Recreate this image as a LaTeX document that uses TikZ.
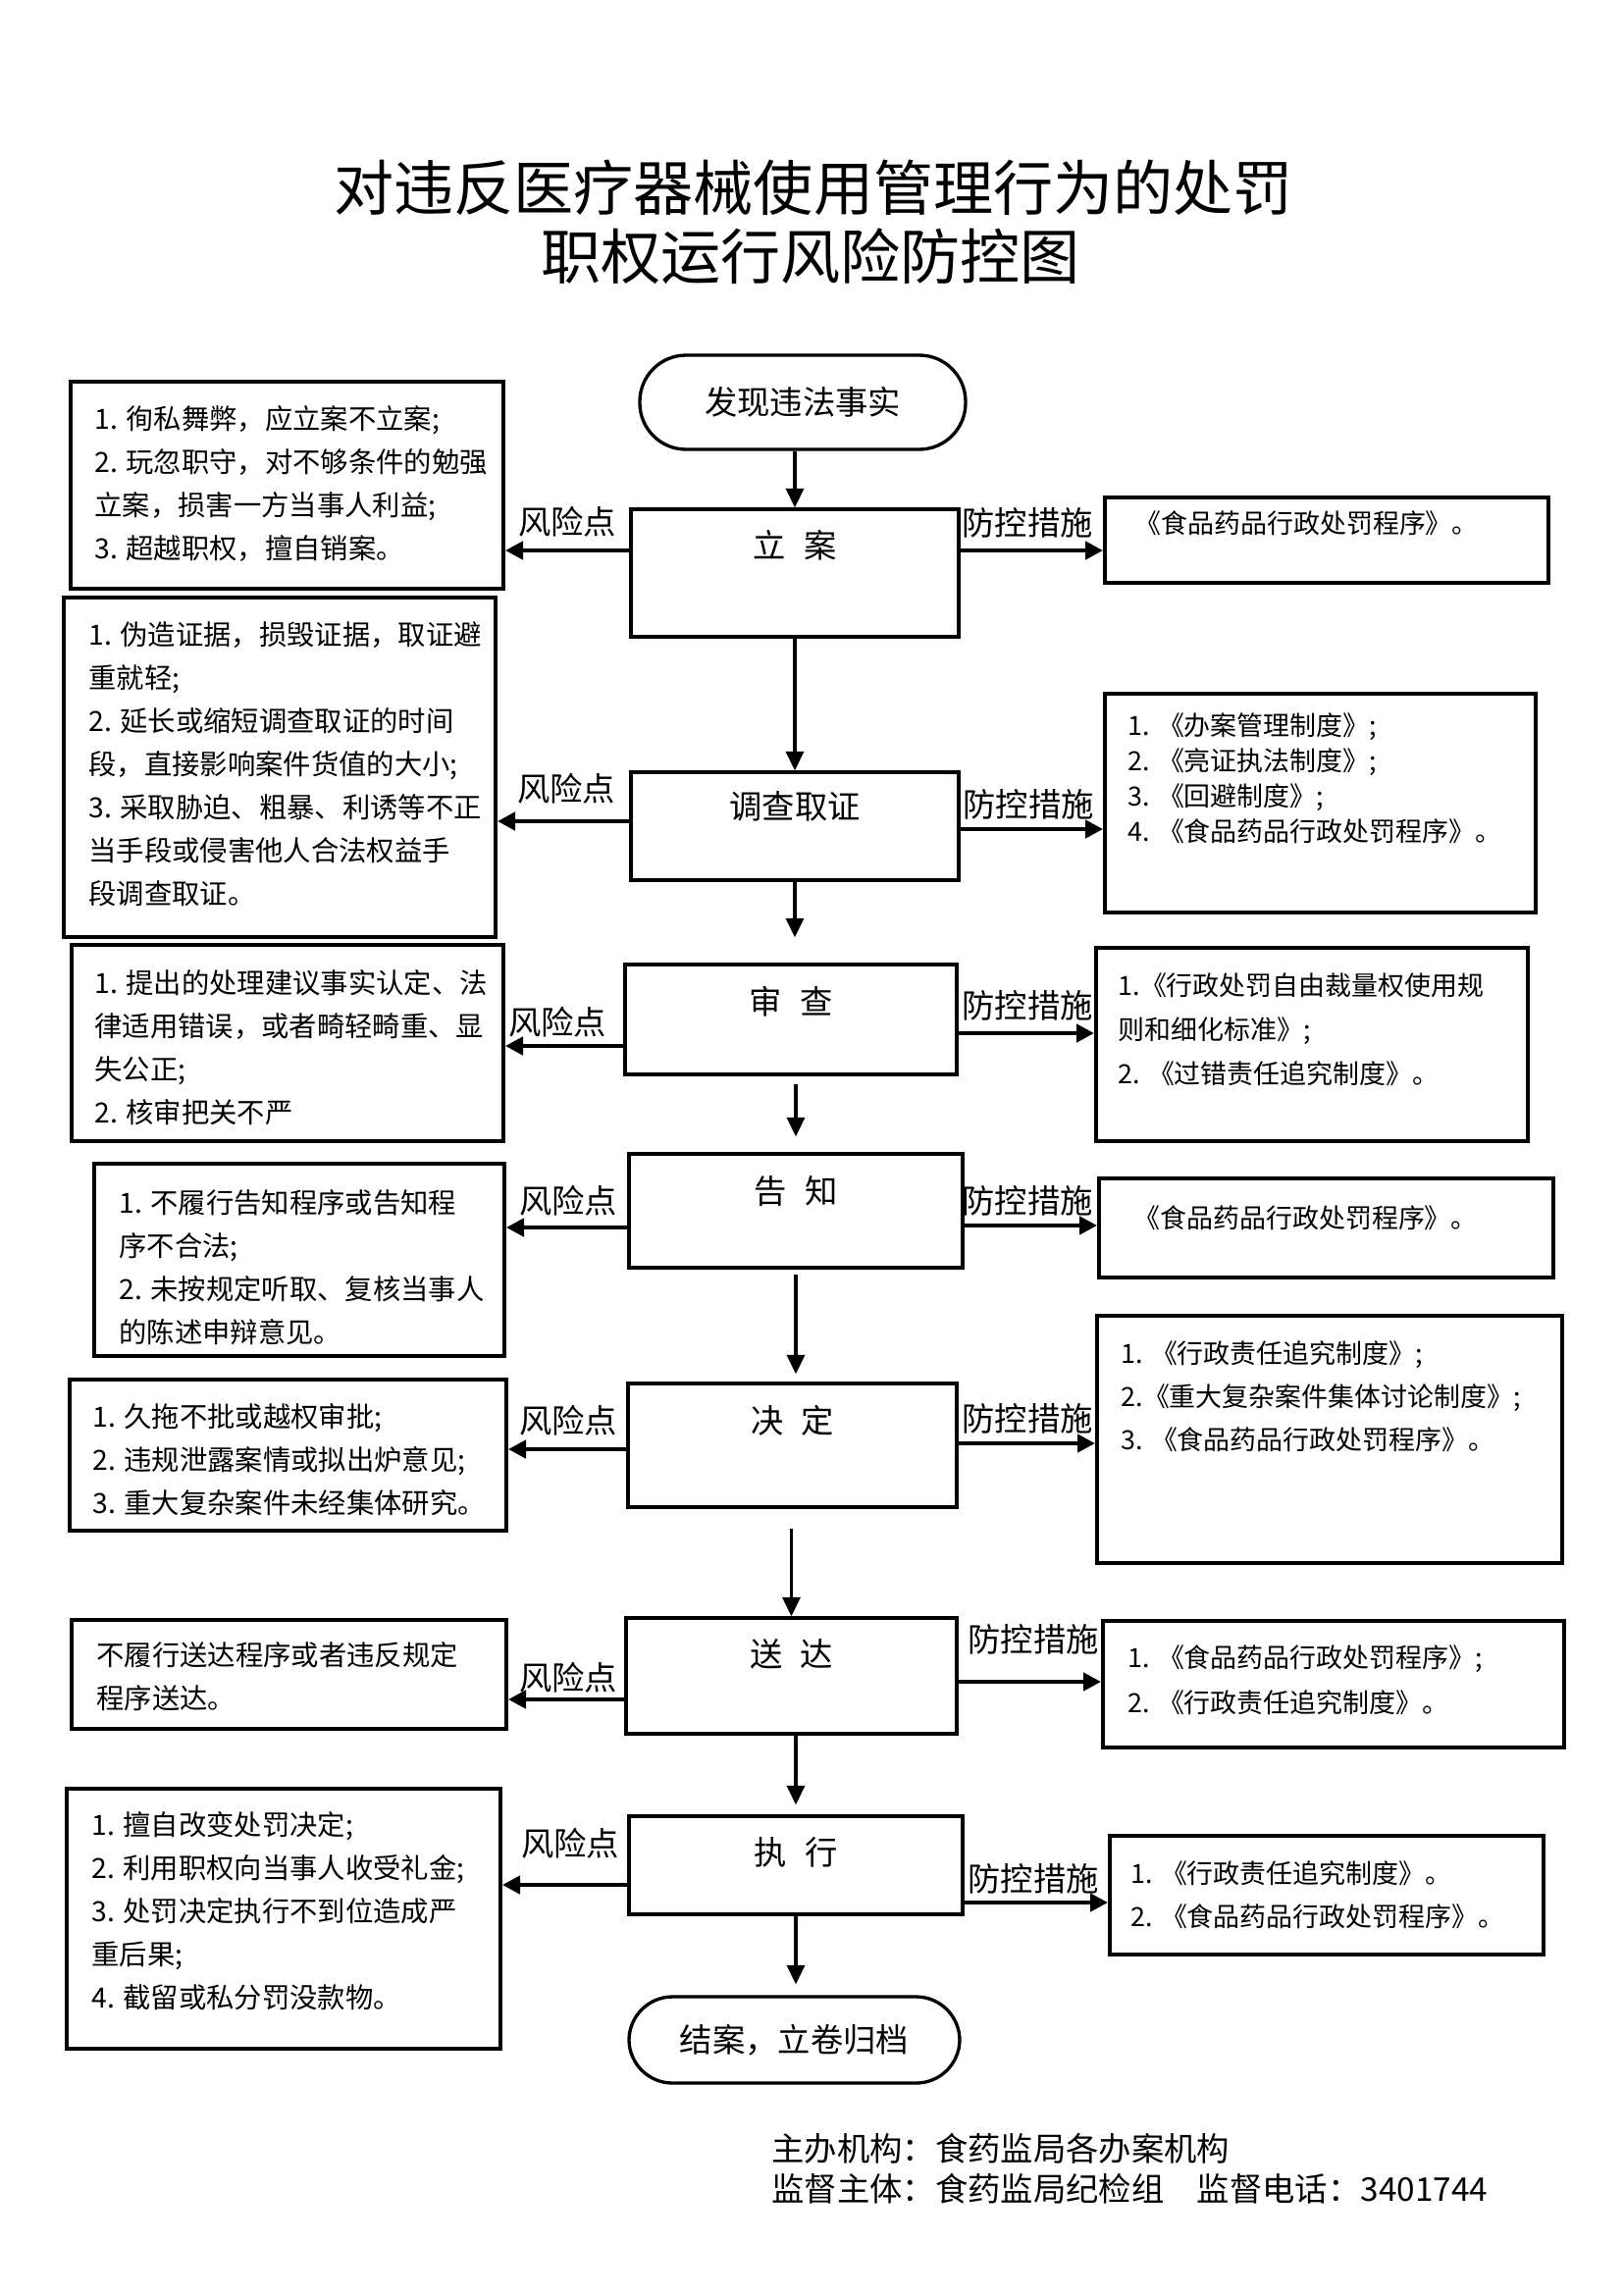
\documentclass[tikz,border=0pt]{standalone}
\usepackage{fontspec}
\setmainfont{Noto Sans CJK SC}
\usetikzlibrary{arrows.meta}
\begin{document}
\begin{tikzpicture}[x=0.36pt,y=-0.36pt,
  sz/.style 2 args={minimum width={#1*0.36pt}, minimum height={#2*0.36pt}},
  mainbox/.style={draw, line width=1.2pt, inner sep=0pt},
  riskbox/.style={draw, line width=1.4pt, inner sep=0pt},
  measbox/.style={draw, line width=1.4pt, inner sep=0pt},
  stadium/.style={draw, line width=1.2pt, inner sep=0pt, rounded corners=#1},
  risktext/.style={anchor=north west, inner sep=0pt, align=left, font=\fontsize{10.2pt}{15.84pt}\selectfont},
  meastext/.style={anchor=north west, inner sep=0pt, align=left, font=\fontsize{9.7pt}{#1}\selectfont},
  lbl/.style={inner sep=0pt, font=\fontsize{12pt}{14pt}\selectfont},
  ttl/.style={inner sep=0pt, font=\fontsize{22pt}{26pt}\selectfont},
  varrow/.style={line width=1.1pt, -{Triangle[length=7pt,width=6.5pt]}},
  harrow/.style={line width=1.6pt, -{Triangle[length=6.5pt,width=6.5pt]}}
]
\useasboundingbox (0,0) rectangle (1654,2339);
\fill[white] (0,0) rectangle (1654,2339);

% title
\node[ttl] (t1) at (829,191) {对违反医疗器械使用管理行为的处罚};
\node[ttl] (t2) at (826,261) {职权运行风险防控图};

% main flow
\node[stadium=17pt, sz={332}{96}] (start) at (818,410) {};
\node[lbl] (starttxt) at (start.center) {发现违法事实};
\node[mainbox, sz={334}{130}] (m1) at (810,584) {};
\node[mainbox, sz={334}{110}] (m2) at (810,842) {};
\node[mainbox, sz={338}{112}] (m3) at (806,1039) {};
\node[mainbox, sz={340}{116}] (m4) at (811,1234) {};
\node[mainbox, sz={335}{126}] (m5) at (807.5,1473) {};
\node[mainbox, sz={337}{118}] (m6) at (806.5,1708) {};
\node[mainbox, sz={340}{100}] (m7) at (811,1901) {};
\node[stadium=16pt, sz={337}{88}] (end) at (809.5,2079) {};
\node[lbl] (endtxt) at (end.center) {结案，立卷归档};

\node[lbl] (m1t) at (m1.north |- 0,556) {立\hspace{0.55em}案};
\node[lbl] (m2t) at (m2.north |- 0,822) {调查取证};
\node[lbl] (m3t) at (m3.north |- 0,1021) {审\hspace{0.55em}查};
\node[lbl] (m4t) at (m4.north |- 0,1214) {告\hspace{0.55em}知};
\node[lbl] (m5t) at (m5.north |- 0,1448) {决\hspace{0.55em}定};
\node[lbl] (m6t) at (m6.north |- 0,1686) {送\hspace{0.55em}达};
\node[lbl] (m7t) at (m7.north |- 0,1888) {执\hspace{0.55em}行};

% vertical arrows
\draw[varrow] (start.south -| m1.north) -- (m1.north);
\draw[varrow] (m1.south) -- (m1.south |- m2.north);
\draw[varrow, shorten >=26*0.36pt] (m2.south) -- (m2.south |- m3.north);
\draw[varrow, shorten <=8*0.36pt, shorten >=16*0.36pt] (m3.south -| m4.north) -- (m4.north);
\draw[varrow, shorten <=5*0.36pt, shorten >=8*0.36pt] (m4.south) -- (m4.south |- m5.north);
\draw[varrow, shorten <=20*0.36pt] (m5.south -| m6.north) -- (m6.north);
\draw[varrow, shorten >=10*0.36pt] (m6.south -| m7.north) -- (m7.north);
\draw[varrow, shorten >=11*0.36pt] (m7.south) -- (m7.south |- end.north);

% risk boxes
\node[riskbox, sz={441}{211}] (r1) at (292.5,494.5) {};
\node[riskbox, sz={440}{346}] (r2) at (285,782) {};
\node[riskbox, sz={440}{200}] (r3) at (293,1063) {};
\node[riskbox, sz={418}{196}] (r4) at (305,1284) {};
\node[riskbox, sz={445}{154}] (r5) at (293.5,1483) {};
\node[riskbox, sz={443}{111}] (r6) at (294.5,1706.5) {};
\node[riskbox, sz={442}{265}] (r7) at (289,1955.5) {};

\node[risktext] (r1t) at (96,413) {1. 徇私舞弊，应立案不立案;\\2. 玩忽职守，对不够条件的勉强\\立案，损害一方当事人利益;\\3. 超越职权，擅自销案。};
\node[risktext] (r2t) at (90,633) {1. 伪造证据，损毁证据，取证避\\重就轻;\\2. 延长或缩短调查取证的时间\\段，直接影响案件货值的大小;\\3. 采取胁迫、粗暴、利诱等不正\\当手段或侵害他人合法权益手\\段调查取证。};
\node[risktext] (r3t) at (96,988) {1. 提出的处理建议事实认定、法\\律适用错误，或者畸轻畸重、显\\失公正;\\2. 核审把关不严};
\node[risktext] (r4t) at (121,1212) {1. 不履行告知程序或告知程\\序不合法;\\2. 未按规定听取、复核当事人\\的陈述申辩意见。};
\node[risktext] (r5t) at (94,1430) {1. 久拖不批或越权审批;\\2. 违规泄露案情或拟出炉意见;\\3. 重大复杂案件未经集体研究。};
\node[risktext] (r6t) at (98,1673) {不履行送达程序或者违反规定\\程序送达。};
\node[risktext] (r7t) at (93,1846) {1. 擅自改变处罚决定;\\2. 利用职权向当事人收受礼金;\\3. 处罚决定执行不到位造成严\\重后果;\\4. 截留或私分罚没款物。};

% measure boxes
\node[measbox, sz={452}{87}] (p1) at (1352,550.5) {};
\node[measbox, sz={439}{223}] (p2) at (1345.5,818.5) {};
\node[measbox, sz={440}{197}] (p3) at (1337,1064.5) {};
\node[measbox, sz={463}{101}] (p4) at (1351.5,1251.5) {};
\node[measbox, sz={474}{252}] (p5) at (1355,1467) {};
\node[measbox, sz={470}{129}] (p6) at (1359,1716.5) {};
\node[measbox, sz={442}{121}] (p7) at (1352,1931.5) {};

\node[meastext=15.84pt] (p1t) at (1156,520) {《食品药品行政处罚程序》。};
\node[meastext=12.96pt] (p2t) at (1149,726) {1. 《办案管理制度》;\\2. 《亮证执法制度》;\\3. 《回避制度》;\\4. 《食品药品行政处罚程序》。};
\node[meastext=16.2pt] (p3t) at (1139,991) {1.《行政处罚自由裁量权使用规\\则和细化标准》;\\2. 《过错责任追究制度》。};
\node[meastext=15.84pt] (p4t) at (1155,1228) {《食品药品行政处罚程序》。};
\node[meastext=15.84pt] (p5t) at (1142,1366) {1. 《行政责任追究制度》;\\2.《重大复杂案件集体讨论制度》;\\3. 《食品药品行政处罚程序》。};
\node[meastext=16.56pt] (p6t) at (1149,1676) {1. 《食品药品行政处罚程序》;\\2. 《行政责任追究制度》。};
\node[meastext=15.84pt] (p7t) at (1152,1896) {1. 《行政责任追究制度》。\\2. 《食品药品行政处罚程序》。};

% risk arrows and labels
\draw[harrow] (m1.west |- 0,561) -- (r1.east |- 0,561);
\draw[harrow] (m2.west |- 0,837) -- (r2.east |- 0,837);
\draw[harrow] (m3.west |- 0,1066) -- (r3.east |- 0,1066);
\draw[harrow] (m4.west |- 0,1251) -- (r4.east |- 0,1251);
\draw[harrow] (m5.west |- 0,1477) -- (r5.east |- 0,1477);
\draw[harrow] (m6.west |- 0,1732) -- (r6.east |- 0,1732);
\draw[harrow] (m7.west |- 0,1921) -- (r7.east |- 0,1921);
\node[lbl] (k1) at (578,532) {风险点};
\node[lbl] (k2) at (577,804) {风险点};
\node[lbl] (k3) at (568,1042) {风险点};
\node[lbl] (k4) at (579,1224) {风险点};
\node[lbl] (k5) at (579,1448) {风险点};
\node[lbl] (k6) at (579,1710) {风险点};
\node[lbl] (k7) at (581,1879) {风险点};

% measure arrows and labels
\draw[harrow] (m1.east |- 0,561) -- (p1.west |- 0,561);
\draw[harrow] (m2.east |- 0,845) -- (p2.west |- 0,845);
\draw[harrow] (m3.east |- 0,1053) -- (p3.west |- 0,1053);
\draw[harrow] (m4.east |- 0,1249) -- (p4.west |- 0,1249);
\draw[harrow] (m5.east |- 0,1471) -- (p5.west |- 0,1471);
\draw[harrow] (m6.east |- 0,1714) -- (p6.west |- 0,1714);
\draw[harrow] (m7.east |- 0,1939) -- (p7.west |- 0,1939);
\node[lbl] (c1) at (1047,533) {防控措施};
\node[lbl] (c2) at (1048,820) {防控措施};
\node[lbl] (c3) at (1047,1025) {防控措施};
\node[lbl] (c4) at (1047,1224) {防控措施};
\node[lbl] (c5) at (1047,1446) {防控措施};
\node[lbl] (c6) at (1053,1671) {防控措施};
\node[lbl] (c7) at (1053,1915) {防控措施};

% footer
\node[lbl, anchor=west] (f1) at (786,2190) {主办机构：食药监局各办案机构};
\node[lbl, anchor=west] (f2) at (786,2231) {监督主体：食药监局纪检组　监督电话：3401744};
\end{tikzpicture}
\end{document}
